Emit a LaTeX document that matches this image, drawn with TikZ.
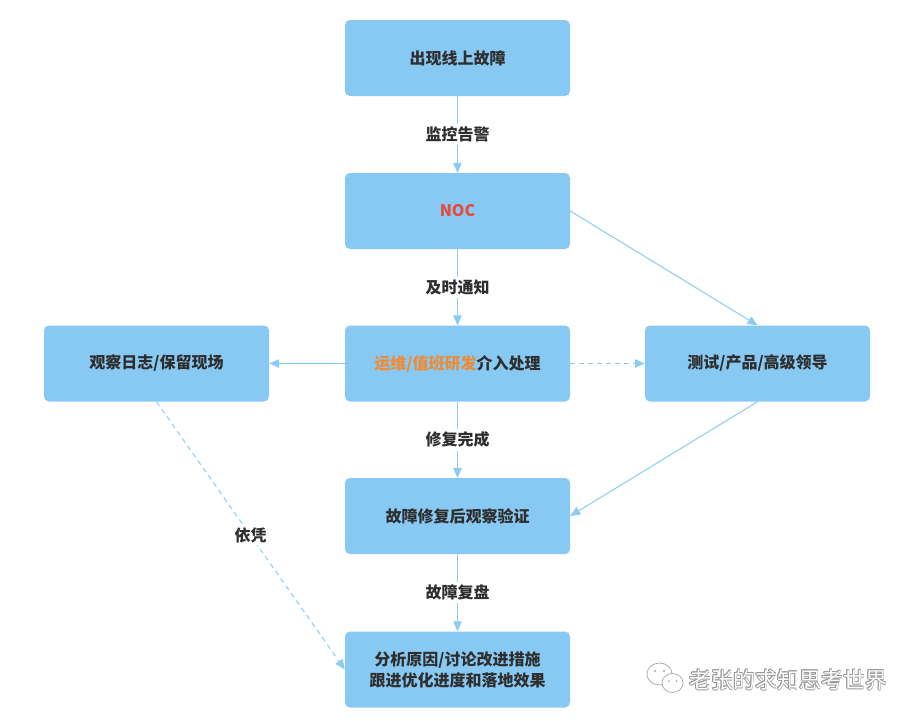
\documentclass[tikz,border=0pt]{standalone}
\usepackage{fontspec}
\setmainfont{Noto Sans CJK SC}
\usetikzlibrary{arrows.meta}
\definecolor{boxblue}{HTML}{88C9F3}
\definecolor{lineblue}{HTML}{8CCBF2}
\definecolor{txt}{HTML}{2E2E2E}
\definecolor{nocred}{HTML}{E84A3C}
\definecolor{opsorange}{HTML}{EE8B36}
\begin{document}
\begin{tikzpicture}[x=1pt,y=-1pt,
  box/.style={fill=boxblue, rounded corners=5pt, minimum width=225pt, minimum height=76pt,
    font=\fontsize{16}{21}\selectfont\bfseries, text=txt, align=center, inner sep=0pt},
  conn/.style={draw=lineblue, line width=1pt, -{Triangle[length=10pt,width=8.5pt]}},
  dconn/.style={conn, dash pattern=on 5pt off 4pt},
  lab/.style={fill=white, font=\fontsize{16}{19}\selectfont\bfseries, text=txt, inner sep=3pt},
  wm/.style={font=\fontsize{22}{25}\selectfont, inner sep=0pt, anchor=west},
  icon/.style={draw=gray!70, fill=white, line width=0.7pt}]
\useasboundingbox (0,0) rectangle (917,720);
\fill[white] (0,0) rectangle (917,720);

\node[box] (top) at (457.5,58) {出现线上故障};
\node[box] (noc) at (457.5,211) {\textcolor{nocred}{NOC}};
\node[box] (mid) at (457.5,363.5) {\textcolor{opsorange}{运维/值班研发}介入处理};
\node[box] (left) at (156.5,363.5) {观察日志/保留现场};
\node[box] (right) at (757.5,363.5) {测试/产品/高级领导};
\node[box] (ver) at (457.5,516) {故障修复后观察验证};
\node[box] (bot) at (457.5,669.5) {分析原因/讨论改进措施\\跟进优化进度和落地效果};

\draw[conn] (top) -- node[lab] {监控告警} (noc);
\draw[conn] (noc) -- node[lab] {及时通知} (mid);
\draw[conn] (mid) -- node[lab] {修复完成} (ver);
\draw[conn] (ver) -- node[lab] {故障复盘} (bot);
\draw[conn] (noc.east) -- (right.north);
\draw[conn] (mid.west) -- (left.east);
\draw[dconn] (mid.east) -- (right.west);
\draw[conn] (right.south) -- (ver.east);
\draw[dconn] (left.south) -- node[lab, inner sep=2pt] {依凭} (bot.west);

% watermark
\draw[icon] (659.5,674) ellipse (12.5 and 11);
\fill[gray!70] (655,671) circle (1.1) (664,671) circle (1.1);
\draw[icon] (672.5,683) ellipse (10.5 and 9.5);
\fill[gray!70] (669,681) circle (1) (676.5,681) circle (1);
\foreach \dx/\dy in {-0.7/0,0.7/0,0/-0.7,0/0.7,0.5/0.5,-0.5/-0.5,0.5/-0.5,-0.5/0.5}
  \node[wm, text=gray!80] at (689+\dx,680+\dy) {老张的求知思考世界};
\node[wm, text=white] (wmtext) at (689,680) {老张的求知思考世界};
\end{tikzpicture}
\end{document}
